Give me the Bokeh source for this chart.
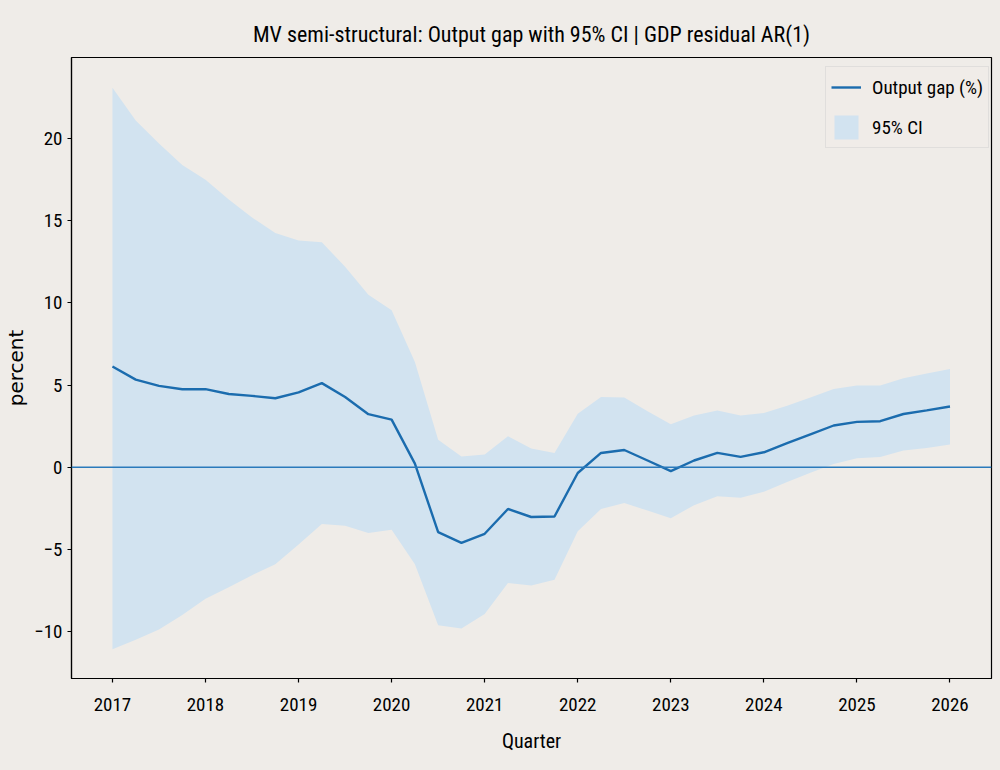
from bokeh.plotting import figure
from bokeh.models import ColumnDataSource, Span, Legend, LegendItem, FixedTicker, GlobalInlineStyleSheet
from bokeh.embed import file_html
from bokeh.resources import INLINE

# ---- data ----
quarters = [
    "2017Q1", "2017Q2", "2017Q3", "2017Q4",
    "2018Q1", "2018Q2", "2018Q3", "2018Q4",
    "2019Q1", "2019Q2", "2019Q3", "2019Q4",
    "2020Q1", "2020Q2", "2020Q3", "2020Q4",
    "2021Q1", "2021Q2", "2021Q3", "2021Q4",
    "2022Q1", "2022Q2", "2022Q3", "2022Q4",
    "2023Q1", "2023Q2", "2023Q3", "2023Q4",
    "2024Q1", "2024Q2", "2024Q3", "2024Q4",
    "2025Q1", "2025Q2", "2025Q3", "2025Q4",
    "2026Q1",
]
output_gap = [
    6.13, 5.33, 4.95, 4.75,
    4.75, 4.46, 4.34, 4.20,
    4.56, 5.12, 4.27, 3.23,
    2.90, 0.22, -3.95, -4.60,
    -4.05, -2.54, -3.03, -3.00,
    -0.35, 0.87, 1.05, 0.41,
    -0.24, 0.41, 0.87, 0.63,
    0.91, 1.46, 2.00, 2.54,
    2.76, 2.80, 3.24, 3.46,
    3.70,
]
ci_upper = [
    23.1, 21.1, 19.7, 18.4,
    17.5, 16.3, 15.2, 14.25,
    13.8, 13.7, 12.2, 10.5,
    9.55, 6.4, 1.68, 0.66,
    0.77, 1.89, 1.14, 0.87,
    3.25, 4.27, 4.25, 3.41,
    2.62, 3.15, 3.46, 3.15,
    3.30, 3.74, 4.24, 4.76,
    4.98, 4.98, 5.42, 5.70,
    5.98,
]
ci_lower = [
    -11.08, -10.5, -9.88, -9.0,
    -8.0, -7.3, -6.57, -5.9,
    -4.7, -3.45, -3.56, -4.0,
    -3.8, -5.9, -9.62, -9.82,
    -8.94, -7.05, -7.2, -6.85,
    -3.9, -2.54, -2.18, -2.64,
    -3.1, -2.31, -1.77, -1.86,
    -1.49, -0.9, -0.33, 0.19,
    0.54, 0.63, 1.02, 1.17,
    1.39,
]
year_ticks = [2017, 2018, 2019, 2020, 2021, 2022, 2023, 2024, 2025, 2026]
y_ticks = [-10, -5, 0, 5, 10, 15, 20]

title_text = "MV semi-structural: Output gap with 95% CI | GDP residual AR(1)"

# ---- style ----
BG = "#efece8"
LINE = "#1b6cae"
BAND = "#d2e3f0"
ZERO = "#2a7abb"
NARROW = "Roboto Condensed"

x = [int(q[:4]) + (int(q[-1]) - 1) / 4 for q in quarters]
src = ColumnDataSource(dict(x=x, gap=output_gap, lo=ci_lower, hi=ci_upper))

p = figure(
    width=1000, height=770,
    x_range=(2016.56, 2026.446), y_range=(-12.86, 24.94),
    output_backend="svg", toolbar_location=None,
    min_border_left=71, min_border_right=9, min_border_top=57, min_border_bottom=92,
)
p.background_fill_color = BG
p.border_fill_color = BG
p.outline_line_color = "black"
p.outline_line_width = 1.2
p.grid.visible = False

band = p.varea(x="x", y1="lo", y2="hi", source=src, fill_color=BAND, fill_alpha=1.0)
line = p.line(x="x", y="gap", source=src, line_color=LINE, line_width=2.4)
p.add_layout(Span(location=0, dimension="width", line_color=ZERO, line_width=1.4))

for ax in (p.xaxis[0], p.yaxis[0]):
    ax.axis_line_color = "black"
    ax.axis_line_width = 1.2
    ax.major_tick_line_color = "black"
    ax.major_tick_line_width = 1.2
    ax.major_tick_out = 4
    ax.major_tick_in = 0
    ax.minor_tick_out = 0
    ax.minor_tick_in = 0
    ax.major_label_text_font = NARROW
    ax.major_label_text_font_size = "19px"
    ax.major_label_text_color = "black"
    ax.axis_label_text_color = "black"
    ax.axis_label_text_font_style = "normal"

p.xaxis.ticker = FixedTicker(ticks=year_ticks)
p.yaxis.ticker = FixedTicker(ticks=y_ticks)
p.yaxis.major_label_overrides = {t: (str(t).replace("-", "\u2212")) for t in y_ticks}
p.xaxis.major_label_standoff = 15
p.yaxis.major_label_standoff = 5
p.xaxis.axis_label = "Quarter"
p.xaxis.axis_label_text_font = NARROW
p.xaxis.axis_label_text_font_size = "20px"
p.xaxis.axis_label_standoff = 15
p.yaxis.axis_label = "percent"
p.yaxis.axis_label_text_font = "DejaVu Sans"
p.yaxis.axis_label_text_font_size = "20px"
p.yaxis.axis_label_standoff = 3

p.title.text = title_text
p.title.text_font = NARROW
p.title.text_font_size = "22px"
p.title.text_font_style = "normal"
p.title.text_color = "black"
p.title.align = "center"
p.title.standoff = 21

legend = Legend(
    items=[LegendItem(label="Output gap (%)", renderers=[line]),
           LegendItem(label="95% CI", renderers=[band])],
    location=(754, 530),
    margin=0,
    padding=5,
    spacing=10,
    glyph_width=30,
    glyph_height=30,
    label_height=30,
    label_width=110,
    label_standoff=11,
    label_text_font=NARROW,
    label_text_font_size="19px",
    label_text_color="black",
    border_line_color="#cfcfcf",
    border_line_width=1,
    background_fill_color=BG,
    background_fill_alpha=0.9,
)
p.add_layout(legend)

p.stylesheets = [GlobalInlineStyleSheet(css="body{background:#efece8;}")]

open("out.html", "w").write(file_html(p, INLINE))
